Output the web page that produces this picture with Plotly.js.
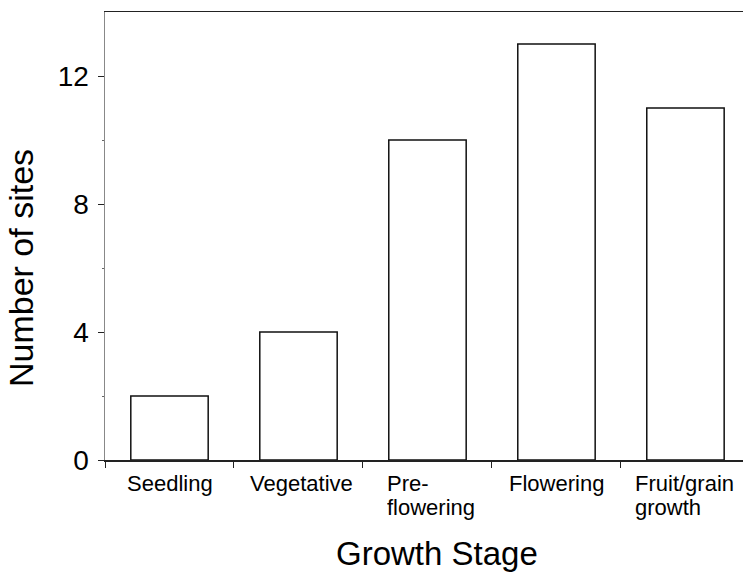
<!DOCTYPE html>
<html>
<head>
<meta charset="utf-8">
<script src="https://cdn.plot.ly/plotly-3.0.1.min.js"></script>
<style>html,body{margin:0;padding:0;background:#fff;}#chart{width:743px;height:573px;}</style>
</head>
<body>
<div id="chart"></div>
<script>
const categories = ["Seedling", "Vegetative", "Pre-flowering", "Flowering", "Fruit/grain growth"];
const tickLabels = ["Seedling", "Vegetative", "Pre-<br>flowering", "Flowering", "Fruit/grain<br>growth"];
const sites = [2, 4, 10, 13, 11];
const yTicks = [0, 4, 8, 12];
const xTitle = "Growth Stage";
const yTitle = "Number of sites";

const FONT = "Liberation Sans, Arial, Helvetica, sans-serif";
// small horizontal nudges of the category labels (layout only)
const LABEL_NUDGE = [0, 3, 10, 0, 0];

const trace = {
  type: "bar",
  x: categories,
  y: sites,
  width: 0.6,
  marker: { color: "#ffffff", line: { color: "#111111", width: 1.5 } },
  hoverinfo: "x+y"
};

const annotations = [];
categories.forEach((c, i) => {
  const lines = tickLabels[i].split("<br>");
  lines.forEach((ln, k) => {
    const a = {
      x: c, xref: "x",
      y: 0, yref: "y",
      yshift: -9 - 24 * k,
      xshift: LABEL_NUDGE[i],
      text: ln,
      showarrow: false,
      xanchor: "center", yanchor: "top",
      align: "left",
      font: { family: FONT, size: 22, color: "#000" }
    };
    if (lines.length > 1) a.width = 100;
    annotations.push(a);
  });
});

annotations.push({
  x: (436.5 - 105) / 638, xref: "paper",
  y: 0, yref: "paper", yshift: -93,
  xanchor: "center", yanchor: "middle",
  text: xTitle, showarrow: false,
  font: { family: FONT, size: 33, color: "#000" }
});
annotations.push({
  x: 0, xref: "paper", xshift: -84,
  y: (460 - 268) / 448, yref: "paper",
  xanchor: "center", yanchor: "middle",
  textangle: -90,
  text: yTitle, showarrow: false,
  font: { family: FONT, size: 34, color: "#000" }
});

const layout = {
  width: 743, height: 573,
  margin: { l: 105, r: 0, t: 12, b: 113, pad: 0 },
  paper_bgcolor: "#fff", plot_bgcolor: "#fff",
  showlegend: false,
  font: { family: FONT, color: "#000" },
  xaxis: {
    type: "category",
    range: [-0.5, 4.446],
    showgrid: false, zeroline: false,
    showline: true, linecolor: "#222", linewidth: 1.5,
    mirror: true,
    ticks: "outside", tickson: "boundaries", ticklen: 6, tickcolor: "#222", tickwidth: 1,
    showticklabels: false
  },
  yaxis: {
    range: [0, 14],
    tickvals: yTicks, ticktext: yTicks.map(String),
    showgrid: false, zeroline: false,
    showline: true, linecolor: "#888", linewidth: 1.5,
    ticks: "outside", ticklen: 6, tickcolor: "#222", tickwidth: 1,
    minor: { tickvals: [2, 6, 10], ticks: "outside", ticklen: 2, tickcolor: "#666" },
    tickfont: { family: FONT, size: 28, color: "#000" },
    ticklabelstandoff: 3
  },
  annotations: annotations
};

Plotly.newPlot("chart", [trace], layout, { displayModeBar: false, staticPlot: true });
</script>
</body>
</html>
